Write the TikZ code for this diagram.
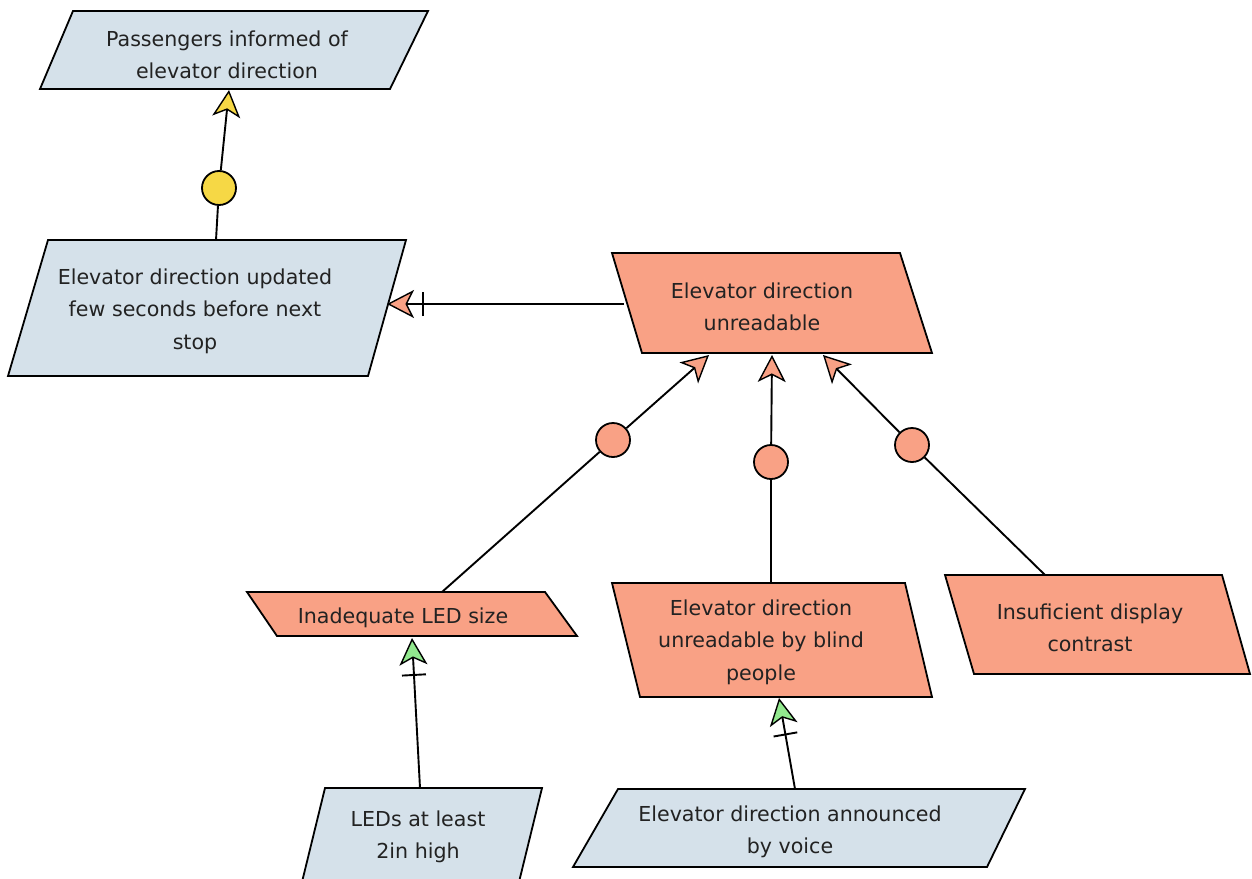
\documentclass[tikz,border=0pt]{standalone}
\usepackage{fontspec}
\setmainfont{DejaVu Sans}
\usetikzlibrary{arrows.meta,calc}
\definecolor{goalblue}{HTML}{D5E1EA}
\definecolor{obstred}{HTML}{F9A185}
\definecolor{refyellow}{HTML}{F6D845}
\definecolor{opgreen}{HTML}{92E88E}
\definecolor{ink}{HTML}{222222}
\begin{document}
\begin{tikzpicture}[x=1pt,y=-1pt,
  goalshape/.style={draw=black,line width=1.8pt,fill=goalblue},
  obstshape/.style={draw=black,line width=1.8pt,fill=obstred},
  label/.style={text=ink,align=center,inner sep=0pt,
    font=\fontsize{20.6}{32.5}\selectfont},
  link/.style={draw=black,line width=1.9pt},
  refnode/.style={circle,draw=black,line width=1.8pt,minimum size=34pt,inner sep=0pt},
  kite/.style={-{Stealth[length=27pt,width=28pt,inset=7pt,line width=1.4pt,fill=#1]}},
  yellowtip/.style={kite=refyellow},
  redtip/.style={kite=obstred},
  greentip/.style={kite=opgreen},
]
\useasboundingbox (0,0) rectangle (1252,878);
\clip (0,0) rectangle (1252,878);

% ---- goals (blue) ----
\draw[goalshape] (73,11) -- (428,11) -- (390,89) -- (40,89) -- cycle;
\node[label] (passengers) at (227,55) {Passengers informed of\\elevator direction};
\coordinate (passengers-in) at (229,90);

\draw[goalshape] (48,240) -- (406,240) -- (368,376) -- (8,376) -- cycle;
\node[label] (updated) at (195,311) {Elevator direction updated\\few seconds before next\\stop};
\coordinate (updated-out) at (216,240);
\coordinate (updated-in) at (387,304);

\draw[goalshape] (325,788) -- (542,788) -- (519,882) -- (302,882) -- cycle;
\node[label] (leds) at (418,837) {LEDs at least\\2in high};
\coordinate (leds-out) at (420,788);

\draw[goalshape] (618,789) -- (1025,789) -- (987,867) -- (573,867) -- cycle;
\node[label] (voice) at (790,832) {Elevator direction announced\\by voice};
\coordinate (voice-out) at (795,789);

% ---- obstacles (red) ----
\draw[obstshape] (612,253) -- (900,253) -- (932,353) -- (642,353) -- cycle;
\node[label] (unreadable) at (762,307) {Elevator direction\\unreadable};
\coordinate (unreadable-out) at (624,304);
\coordinate (unreadable-in1) at (709,355);
\coordinate (unreadable-in2) at (772,355);
\coordinate (unreadable-in3) at (823,355);

\draw[obstshape] (247,592) -- (545,592) -- (577,636) -- (277,636) -- cycle;
\node[label] (ledsize) at (403,618) {Inadequate LED size};
\coordinate (ledsize-out) at (442,592);
\coordinate (ledsize-in) at (412,638);

\draw[obstshape] (612,583) -- (905,583) -- (932,697) -- (640,697) -- cycle;
\node[label] (blind) at (761,642) {Elevator direction\\unreadable by blind\\people};
\coordinate (blind-out) at (771,583);
\coordinate (blind-in) at (779,698);

\draw[obstshape] (945,575) -- (1222,575) -- (1250,674) -- (974,674) -- cycle;
\node[label] (contrast) at (1090,628) {Insuficient display\\contrast};
\coordinate (contrast-out) at (1045,575);

% ---- refinement circles ----
\node[refnode,fill=refyellow] (ref1) at (219,188) {};
\node[refnode,fill=obstred] (ref2) at (613,440) {};
\node[refnode,fill=obstred] (ref3) at (771,462) {};
\node[refnode,fill=obstred] (ref4) at (912,445) {};

% ---- refinement links ----
\draw[link] (updated-out) -- (ref1);
\draw[link,yellowtip] (ref1) -- (passengers-in);

\draw[link] (ledsize-out) -- (ref2);
\draw[link,redtip] (ref2) -- (unreadable-in1);
\draw[link] (blind-out) -- (ref3);
\draw[link,redtip] (ref3) -- (unreadable-in2);
\draw[link] (contrast-out) -- (ref4);
\draw[link,redtip] (ref4) -- (unreadable-in3);

% ---- obstruction and resolution links ----
\draw[link,redtip] (unreadable-out) -- (updated-in);
\coordinate (tick1) at ($(updated-in)!36pt!(unreadable-out)$);
\draw[link] ($(tick1)!12pt!90:(updated-in)$) -- ($(tick1)!12pt!-90:(updated-in)$);

\draw[link,greentip] (leds-out) -- (ledsize-in);
\coordinate (tick2) at ($(ledsize-in)!37pt!(leds-out)$);
\draw[link] ($(tick2)!12pt!90:(ledsize-in)$) -- ($(tick2)!12pt!-90:(ledsize-in)$);

\draw[link,greentip] (voice-out) -- (blind-in);
\coordinate (tick3) at ($(blind-in)!37pt!(voice-out)$);
\draw[link] ($(tick3)!12pt!90:(blind-in)$) -- ($(tick3)!12pt!-90:(blind-in)$);
\end{tikzpicture}
\end{document}
